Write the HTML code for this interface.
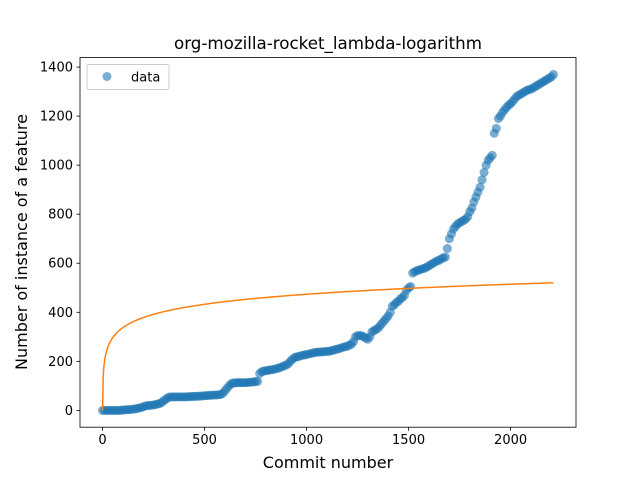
<!DOCTYPE html>
<html><head><meta charset="utf-8">
<style>
body{margin:0;background:#fff;}
svg text{font-family:"DejaVu Sans","Liberation Sans",sans-serif;fill:#000;}
</style></head>
<body>
<svg id="chart" width="640" height="480" xmlns="http://www.w3.org/2000/svg">
<rect width="640" height="480" fill="#fff"/>
<text x="328" y="49" font-size="16.7" text-anchor="middle">org-mozilla-rocket_lambda-logarithm</text>
<g id="plot"></g>
<rect x="80" y="57.6" width="496" height="369.6" fill="none" stroke="#000" stroke-width="0.8"/>
<g id="xticks"></g>
<g id="yticks"></g>
<text x="328" y="468" font-size="16" text-anchor="middle">Commit number</text>
<text x="0" y="0" font-size="16" text-anchor="middle" transform="translate(27,242) rotate(-90)">Number of instance of a feature</text>
<g>
<rect x="87" y="64.5" width="82" height="25" fill="#fff" fill-opacity="0.8" stroke="#ccc" rx="2"/>
<circle cx="107" cy="76.5" r="4.5" fill="#1f77b4" fill-opacity="0.6"/>
<text x="131" y="81.5" font-size="13">data</text>
</g>
</svg>
<script>
const commits=[0,10,20,30,40,50,60,70,80,90,100,110,120,130,140,150,160,170,180,190,200,210,220,230,240,250,260,270,280,290,300,310,320,330,340,350,360,370,380,390,400,410,420,430,440,450,460,470,480,490,500,510,520,530,540,550,560,570,580,590,600,610,620,630,640,650,660,670,680,690,700,710,720,730,740,750,760,770,780,790,800,810,820,830,840,850,860,870,880,890,900,910,920,930,940,950,960,970,980,990,1000,1010,1020,1030,1040,1050,1060,1070,1080,1090,1100,1110,1120,1130,1140,1150,1160,1170,1180,1190,1200,1210,1220,1230,1240,1250,1260,1270,1280,1290,1300,1310,1320,1330,1340,1350,1360,1370,1380,1390,1400,1410,1420,1430,1440,1450,1460,1470,1480,1490,1500,1510,1520,1530,1540,1550,1560,1570,1580,1590,1600,1610,1620,1630,1640,1650,1660,1670,1680,1690,1700,1710,1720,1730,1740,1750,1760,1770,1780,1790,1800,1810,1820,1830,1840,1850,1860,1870,1880,1890,1900,1910,1920,1930,1940,1950,1960,1970,1980,1990,2000,2010,2020,2030,2040,2050,2060,2070,2080,2090,2100,2110,2120,2130,2140,2150,2160,2170,2180,2190,2200,2210];
const values=[0,0,0,0,0,0,0,0,0,0,
2,2,3,3,4,5,6,8,10,12,
15,18,20,20,21,22,24,26,28,32,
40,45,52,55,55,55,55,55,55,55,
55,55,56,56,57,57,57,58,58,59,
60,60,61,62,62,63,63,64,65,70,
80,90,100,108,112,112,113,113,113,113,
113,114,115,115,116,118,118,150,158,160,
162,163,165,166,168,170,172,175,178,182,
185,190,200,208,215,218,220,222,225,226,
228,230,232,234,236,237,238,238,239,240,
240,241,243,245,248,250,252,255,258,260,
262,266,270,280,300,305,305,305,300,295,
290,300,320,325,330,335,345,355,365,375,
385,400,425,430,440,445,455,460,470,490,
500,505,560,565,570,572,575,578,580,585,
590,595,600,605,610,612,618,622,625,660,
700,720,740,750,760,765,770,775,780,790,
810,825,850,870,890,910,940,970,1000,1020,
1030,1040,1130,1150,1190,1200,1215,1225,1235,1245,
1250,1260,1270,1280,1285,1290,1295,1300,1305,1308,
1310,1315,1320,1325,1330,1335,1340,1345,1350,1355,
1360,1370];
const fitA=59, fitB=66;
const xTicks=[0,500,1000,1500,2000];
const yTicks=[0,200,400,600,800,1000,1200,1400];
const xmin=-110.5,xmax=2320.5,ymin=-68.5,ymax=1438.5;
const L=80,R=576,T=57.6,B=427.2;
const sx=v=>L+(v-xmin)/(xmax-xmin)*(R-L);
const sy=v=>B-(v-ymin)/(ymax-ymin)*(B-T);
const NS="http://www.w3.org/2000/svg";
const plot=document.getElementById('plot');
for(let i=0;i<commits.length;i++){
  const c=document.createElementNS(NS,'circle');
  c.setAttribute('cx',sx(commits[i]));c.setAttribute('cy',sy(values[i]));
  c.setAttribute('r',4.5);c.setAttribute('fill','#1f77b4');c.setAttribute('fill-opacity','0.6');
  
  
  plot.appendChild(c);
}
let d='';
const xmaxData=commits[commits.length-1];
for(let x=1;x<=xmaxData;x+= (x<50?0.5:5)){
  const y=Math.max(0,fitA*Math.log(x)+fitB*Math.min(1,x/3));
  d+=(d?'L':'M')+sx(x).toFixed(2)+','+sy(y).toFixed(2);
}
d='M'+sx(0)+','+sy(0)+d.replace(/^M/,'L');
const p=document.createElementNS(NS,'path');
p.setAttribute('d',d);p.setAttribute('fill','none');p.setAttribute('stroke','#ff7f0e');p.setAttribute('stroke-width','1.5');


plot.appendChild(p);
const xg=document.getElementById('xticks');
xTicks.forEach(v=>{
  const x=sx(v);
  const l=document.createElementNS(NS,'line');
  l.setAttribute('x1',x);l.setAttribute('x2',x);l.setAttribute('y1',B);l.setAttribute('y2',B+3.5);l.setAttribute('stroke','#000');l.setAttribute('stroke-width','0.8');
  
  
  xg.appendChild(l);
  const t=document.createElementNS(NS,'text');
  t.setAttribute('x',x);t.setAttribute('y',B+17);t.setAttribute('font-size','13');t.setAttribute('text-anchor','middle');t.textContent=v;
  
  
  xg.appendChild(t);
});
const yg=document.getElementById('yticks');
yTicks.forEach(v=>{
  const y=sy(v);
  const l=document.createElementNS(NS,'line');
  l.setAttribute('x1',L-3.5);l.setAttribute('x2',L);l.setAttribute('y1',y);l.setAttribute('y2',y);l.setAttribute('stroke','#000');l.setAttribute('stroke-width','0.8');
  
  
  yg.appendChild(l);
  const t=document.createElementNS(NS,'text');
  t.setAttribute('x',L-7);t.setAttribute('y',y+4.5);t.setAttribute('font-size','13');t.setAttribute('text-anchor','end');t.textContent=v;
  
  
  yg.appendChild(t);
});
</script>
</body></html>
